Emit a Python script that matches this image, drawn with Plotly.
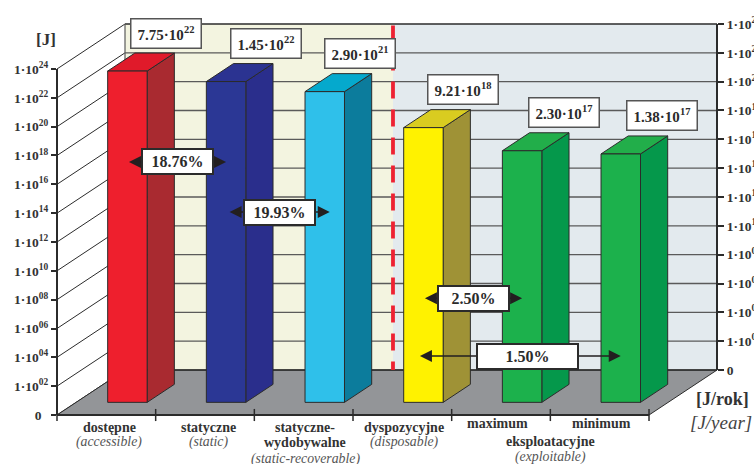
import math
import plotly.graph_objects as go

# ---- data ----
categories = ["dostępne", "statyczne", "statyczne-", "dyspozycyjne", "maximum", "minimum"]
values_j = [7.75e22, 1.45e22, 2.90e21, 9.21e18, 2.30e17, 1.38e17]
value_mantissa = ["7.75", "1.45", "2.90", "9.21", "2.30", "1.38"]
value_exponent = ["22", "22", "21", "18", "17", "17"]
y_exponents = [0, 2, 4, 6, 8, 10, 12, 14, 16, 18, 20, 22, 24]
y_exp_labels = ["0", "02", "04", "06", "08", "10", "12", "14", "16", "18", "20", "22", "24"]
ratio_labels = ["18.76%", "19.93%", "2.50%", "1.50%"]
ratio_levels = [17.55, 14.08, 8.1, 4.09]
bar_front = ["#ee1f2d", "#2b3795", "#2fc0ea", "#fff200", "#1cb14c", "#1cb14c"]
bar_side = ["#a92a30", "#2a2e8c", "#0c7c9c", "#9f9236", "#05984b", "#05984b"]
bar_top = ["#e01a2a", "#2b3391", "#05a9cd", "#d9cc20", "#22ae4a", "#22ae4a"]

# ---- layout constants ----
W, H = 754, 464
PX_X, PX_Y = 98.67, 14.417   # px per category, px per decade
X0, Y0 = 57, 415             # pixel of the origin
DX, DY = 68 / PX_X, 45 / PX_Y  # shear for full depth
SERIF = "Liberation Serif"
DARK = "#2b2b2b"
GRID = "#5a5a5a"

def proj(x, e, depth=0.0):
    return x + DX * depth, e + DY * depth

def line(pts, color=DARK, width=1.0, dash=None, fill=None):
    xs = [p[0] for p in pts]
    ys = [p[1] for p in pts]
    return go.Scatter(x=xs, y=ys, mode="lines", hoverinfo="skip", showlegend=False,
                      fill="toself" if fill else None, fillcolor=fill,
                      line=dict(color=color, width=width, dash=dash))

fig = go.Figure()
add = fig.add_trace
TOP, XMAX = y_exponents[-1], len(categories)
SPLIT = 2.716  # dashed divider on the back wall

# walls
add(line([proj(0, 0, 1), proj(SPLIT, 0, 1), proj(SPLIT, TOP, 1), proj(0, TOP, 1), proj(0, 0, 1)],
         color="#f3f4e0", width=0, fill="#f3f4e0"))
add(line([proj(SPLIT, 0, 1), proj(XMAX, 0, 1), proj(XMAX, TOP, 1), proj(SPLIT, TOP, 1), proj(SPLIT, 0, 1)],
         color="#e3eaee", width=0, fill="#e3eaee"))
# grid on back and left walls
for e in y_exponents[1:]:
    col = DARK if e == TOP else GRID
    add(line([proj(0, e, 1), proj(XMAX, e, 1)], color=col, width=1.4))
for e in y_exponents:
    add(line([proj(0, e, 0), proj(0, e, 1)], color=DARK, width=1))
add(line([proj(0, 0, 1), proj(0, TOP, 1)], color=GRID, width=1.2))
# floor
add(line([proj(0, 0, 0), proj(XMAX, 0, 0), proj(XMAX, 0, 1), proj(0, 0, 1), proj(0, 0, 0)],
         color=DARK, width=1, fill="#939598"))
add(line([proj(0, 0, 1), proj(XMAX, 0, 1)], color=DARK, width=1.6))
add(line([proj(0, 0, 0), proj(XMAX, 0, 0)], color=DARK, width=1.8))
# x ticks across the front edge
for k in range(XMAX + 1):
    add(line([(k, -0.42), (k, 0.42)], color=DARK, width=1.5))
# divider, drawn top-down so the dash phase matches
add(line([proj(SPLIT, TOP - 0.1, 1), proj(SPLIT, 0, 1)], color="#ee2233", width=3.8, dash="17px,11px"))

# bars
F, B, HW, BASE = 0.31, 0.71, 0.2, -0.09
for i, v in enumerate(values_j):
    e = math.log10(v)
    c = i + 0.5
    L, R = c - HW, c + HW
    add(line([proj(R, BASE, F), proj(R, BASE, B), proj(R, e, B), proj(R, e, F), proj(R, BASE, F)],
             color=DARK, fill=bar_side[i]))
    add(line([proj(L, e, F), proj(R, e, F), proj(R, e, B), proj(L, e, B), proj(L, e, F)],
             color=DARK, fill=bar_top[i]))
    add(line([proj(L, BASE, F), proj(R, BASE, F), proj(R, e, F), proj(L, e, F), proj(L, BASE, F)],
             color=DARK, fill=bar_front[i]))

# carrier traces for the two real value axes
add(go.Scatter(x=[0, 0], y=[0, TOP], yaxis="y2", mode="none", hoverinfo="skip", showlegend=False))
add(go.Scatter(x=[0, 0], y=[0, TOP], yaxis="y3", mode="none", hoverinfo="skip", showlegend=False))

ann = []
def T(text, x, py, size, xshift=0, color="#333333", xref="x", anchor="center"):
    ann.append(dict(text=text, x=x, xref=xref, y=1 - py / H, yref="paper", showarrow=False,
                    xshift=xshift, xanchor=anchor, yanchor="middle",
                    font=dict(family=SERIF, size=size, color=color)))

# value labels
label_dx = [39, 40, 35, 40, 42, 41]
for i, v in enumerate(values_j):
    px, pe = proj(i + 0.5, math.log10(v), F)
    ann.append(dict(text=f"<b>{value_mantissa[i]}·10<sup>{value_exponent[i]}</sup></b>",
                    x=px, y=pe, showarrow=False, xshift=label_dx[i], yshift=38,
                    width=69, height=28, borderpad=0, borderwidth=1.5, bordercolor="#555555",
                    bgcolor="white", font=dict(family=SERIF, size=15, color=DARK)))

# ratio arrows and boxes
arrow_ends = [(0, 1, 0, 0), (1, 2, 2, 5), (3, 4, 0, 0), (3, 5, -5, 0)]
box_px = [(177.5, 69), (279.5, 69), (473, 69), (527.5, 99)]
for lab, lev, (a, b, s0, s1), (bx, bw) in zip(ratio_labels, ratio_levels, arrow_ends, box_px):
    xa = proj(a + 0.5, 0, F)[0] + s0 / PX_X
    xb = proj(b + 0.5, 0, F)[0] + s1 / PX_X
    ann.append(dict(text="", x=xb, y=lev, ax=xa, ay=lev, axref="x", ayref="y", showarrow=True,
                    arrowhead=2, arrowside="end+start", arrowsize=1.5, arrowwidth=1.6, arrowcolor="#231f20"))
    ann.append(dict(text=f"<b>{lab}</b>", x=(bx - X0) / PX_X, y=lev, showarrow=False,
                    width=bw, height=23, borderpad=0, borderwidth=2, bordercolor="#2b2b2b",
                    bgcolor="white", font=dict(family=SERIF, size=16, color=DARK)))

# category labels
B_ = lambda s: f"<b>{s}</b>"
I_ = lambda s: f"<i>{s}</i>"
GI = "#555555"
BS, IS = 14, 13.8
T(B_(categories[0]), 0.5, 427, BS, 3)
T(I_("(accessible)"), 0.5, 442, IS, 3, GI)
T(B_(categories[1]), 1.5, 427, BS, 3)
T(I_("(static)"), 1.5, 442, IS, 3, GI)
T(B_(categories[2]), 2.5, 427, BS, 1.5)
T(B_("wydobywalne"), 2.5, 442, BS, 1.5)
T(I_("(static-recoverable)"), 2.5, 458.5, IS, 1.5, GI)
T(B_(categories[3]), 3.5, 427, BS, 2)
T(I_("(disposable)"), 3.5, 442, IS, 2, GI)
T(B_(categories[4]), 4.5, 423, BS, -4)
T(B_(categories[5]), 5.5, 423, BS, 2)
T(B_("eksploatacyjne"), 5, 441, BS, 0)
T(I_("(exploitable)"), 5, 457, IS, 0, GI)
# axis titles
T(B_("[J]"), 46 / W, 39, 17, xref="paper")
T(B_("[J/rok]"), 722 / W, 399, 18, xref="paper")
T(I_("[J/year]"), 721 / W, 422, 19, color="#444444", xref="paper")

tick_text = [t if t == "0" else f"<b>1·10<sup>{t}</sup></b>" for t in y_exp_labels]
left_text = ["<b>0</b>&nbsp;&nbsp;" if t == "0" else s for t, s in zip(y_exp_labels, tick_text)]
right_text = ["<b>0</b>" if t == "0" else s for t, s in zip(y_exp_labels, tick_text)]
yfont = dict(family=SERIF, size=13.5, color="#333333")
common = dict(range=[0, TOP], tickmode="array", tickvals=y_exponents, ticks="outside", showgrid=False,
              zeroline=False, showline=True, linecolor=DARK, tickcolor=DARK, tickfont=yfont,
              anchor="free", automargin=False, fixedrange=True)

fig.update_layout(
    width=W, height=H, margin=dict(l=0, r=0, t=0, b=0), autosize=False,
    paper_bgcolor="white", plot_bgcolor="rgba(0,0,0,0)", showlegend=False, hovermode=False,
    xaxis=dict(range=[-X0 / PX_X, (W - X0) / PX_X], visible=False, domain=[0, 1], fixedrange=True),
    yaxis=dict(range=[-(H - Y0) / PX_Y, Y0 / PX_Y], visible=False, domain=[0, 1], fixedrange=True),
    yaxis2=dict(domain=[1 - Y0 / H, 1 - (Y0 - TOP * PX_Y) / H], position=X0 / W, side="left",
                ticktext=left_text, ticklen=5, linewidth=2, tickwidth=1.6, **common),
    yaxis3=dict(domain=[1 - (Y0 - 45) / H, 1 - (Y0 - 45 - TOP * PX_Y) / H], position=(X0 + XMAX * PX_X + 68) / W,
                side="right", ticktext=right_text, ticklen=6, linewidth=2, tickwidth=1.6, **common),
    annotations=ann,
)

fig.write_html("out.html", config={"displayModeBar": False},
               post_script="document.body.style.margin='0';")
